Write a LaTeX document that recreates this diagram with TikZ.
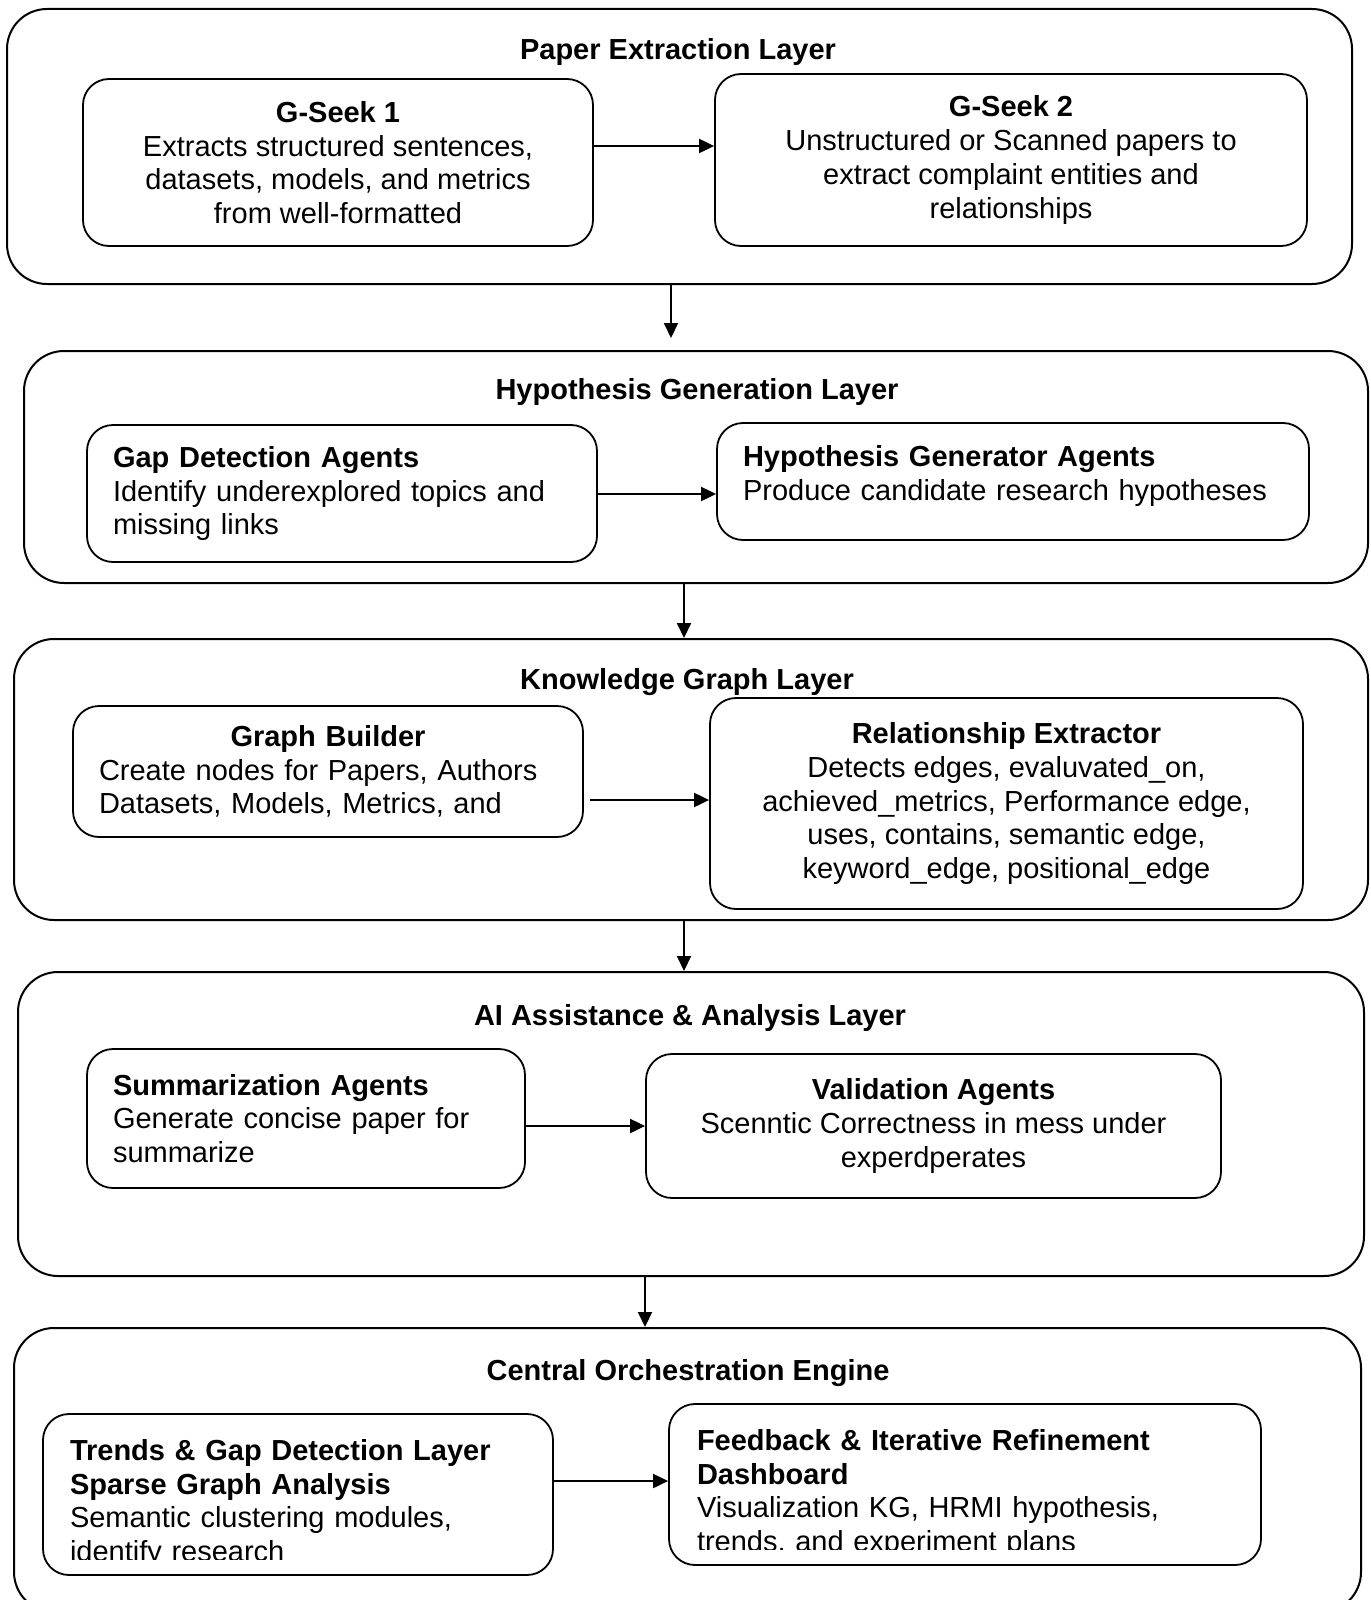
\documentclass[tikz,border=0pt]{standalone}
\usepackage{fontspec}
\setmainfont{Liberation Sans}
\usetikzlibrary{arrows.meta,positioning,calc}

\begin{document}
\begin{tikzpicture}[x=1pt,y=-1pt,
            font=\fontsize{29}{33.7}\selectfont,
            layer/.style={
                rectangle, draw, line width=2pt, rounded corners=40pt, inner sep=0pt},
            agent/.style={
                rectangle, draw, line width=1.8pt, rounded corners=26pt, inner sep=0pt, align=center},
            agentl/.style={agent, align=left, inner xsep=26pt},
            ltitle/.style={font=\fontsize{29}{33.7}\selectfont\bfseries, yshift=-3pt},
            txt/.style={align=left, inner sep=0pt},
            link/.style={-{Triangle[length=15pt,width=14pt]}, line width=2pt}]

            \useasboundingbox (0,0) rectangle (1370,1600);

            \node [layer,minimum width=1345pt,minimum height=275pt] (l1) at (679.5,146.5) {};
            \node [layer,minimum width=1344pt,minimum height=232pt] (l2) at (696,467) {};
            \node [layer,minimum width=1354pt,minimum height=281pt] (l3) at (691,779.5) {};
            \node [layer,minimum width=1346pt,minimum height=304pt] (l4) at (691,1124) {};
            \node [layer,minimum width=1347pt,minimum height=284pt] (l5) at (687.5,1470) {};

            \node [ltitle] (t1) at (678,49) {Paper Extraction Layer};
            \node [ltitle] (t2) at (697,389) {Hypothesis Generation Layer};
            \node [ltitle] (t3) at (687,679) {Knowledge Graph Layer};
            \node [ltitle] (t4) at (690,1015) {AI Assistance \& Analysis Layer};
            \node [ltitle] (t5) at (688,1370) {Central Orchestration Engine};

            \node [agent,minimum width=510pt,minimum height=167pt] (g1) at (338,162.5) {
            \textbf{G-Seek 1}\\Extracts structured sentences,\\datasets, models, and metrics\\
            from well-formatted};
            \node [agent,minimum width=592pt,minimum height=172pt] (g2) at (1011,160) {
            \textbf{G-Seek 2}\\Unstructured or Scanned papers to\\extract complaint entities and\\
            relationships};

            \node [agentl,text width=458pt,minimum width=510pt,minimum height=137pt] (gap) at (342,493.5) {
            \textbf{Gap Detection Agents}\\Identify underexplored topics and\\missing links};
            \node [agentl,text width=540pt,text depth=51pt,minimum width=592pt,minimum height=117pt] (hyp) at (1013,481.5) {
            \textbf{Hypothesis Generator Agents}\\Produce candidate research hypotheses};

            \node [agentl,text width=458pt,minimum width=510pt,minimum height=131pt] (gb) at (328,771.5) {
            \makebox[\linewidth]{\textbf{Graph Builder}}\\Create nodes for Papers, Authors\\
            Datasets, Models, Metrics, and};
            \node [agent,minimum width=593pt,minimum height=211pt] (re) at (1006.5,803.5) {
            \textbf{Relationship Extractor}\\Detects edges, evaluvated\_on,\\
            achieved\_metrics, Performance edge,\\uses, contains, semantic edge,\\
            keyword\_edge, positional\_edge};

            \node [agentl,text width=386pt,minimum width=438pt,minimum height=139pt] (sum) at (306,1118.5) {
            \textbf{Summarization Agents}\\Generate concise paper for\\summarize};
            \node [agent,minimum width=575pt,minimum height=144pt] (val) at (933.5,1126) {
            \textbf{Validation Agents}\\Scenntic Correctness in mess under\\experdperates};

            \node [agent,minimum width=510pt,minimum height=161pt] (tr) at (298,1494.5) {};
            \node [agent,minimum width=592pt,minimum height=161pt] (fb) at (965,1484.5) {};
            \begin{scope}
            \clip (tr.north west) rectangle ($(tr.south east)+(0,-16)$);
            \node [txt,text width=456pt] (trtxt) at ($(tr)+(0,9)$) {
            \textbf{Trends \& Gap Detection Layer}\\\textbf{Sparse Graph Analysis}\\
            Semantic clustering modules,\\identify research};
            \end{scope}
            \begin{scope}
            \clip (fb.north west) rectangle ($(fb.south east)+(0,-16)$);
            \node [txt,text width=536pt] (fbtxt) at ($(fb)+(0,9)$) {
            \textbf{Feedback \& Iterative Refinement}\\\textbf{Dashboard}\\
            Visualization KG, HRMI hypothesis,\\trends, and experiment plans};
            \end{scope}

            \draw [link] (g1.east |- 0,146) -- (g2.west |- 0,146);
            \draw [link] (gap.east |- 0,494) -- (hyp.west |- 0,494);
            \draw [link,shorten <=6pt] (gb.east |- 0,800) -- (re.west |- 0,800);
            \draw [link] (sum.east |- 0,1126) -- (val.west |- 0,1126);
            \draw [link] (tr.east |- 0,1481) -- (fb.west |- 0,1481);

            \draw [link,shorten >=12pt] (l1.south -| 671,0) -- (l2.north -| 671,0);
            \draw [link] (l2.south -| 684,0) -- (l3.north -| 684,0);
            \draw [link] (l3.south -| 684,0) -- (l4.north -| 684,0);
            \draw [link] (l4.south -| 645,0) -- (l5.north -| 645,0);
        \end{tikzpicture}
\end{document}
